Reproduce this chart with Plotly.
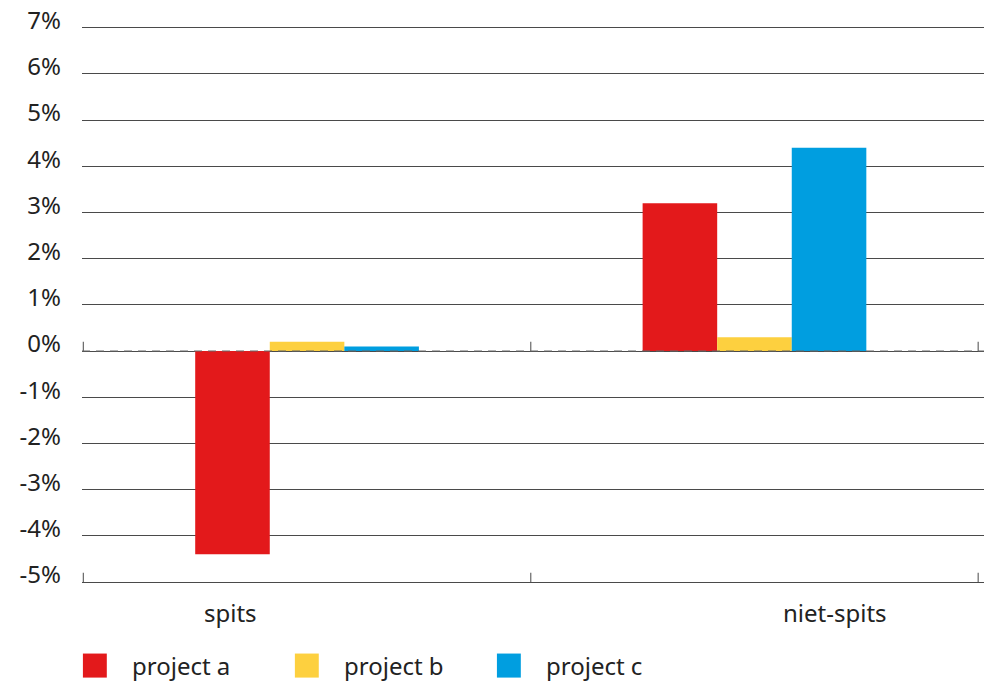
import plotly.graph_objects as go

# Data
categories = ['spits', 'niet-spits']
project_a = [-4.4, 3.2]
project_b = [0.2, 0.3]
project_c = [0.1, 4.4]
series_names = ['project a', 'project b', 'project c']
colors = ['#e3191b', '#fdd03f', '#009ee0']
y_ticks = list(range(-5, 8))
y_labels = ['%d%%' % v for v in y_ticks]

FONT = 'Noto Sans'
TEXT = '#222222'
GRID = '#4a4a4a'

fig = go.Figure()
for name, vals, color in zip(series_names, [project_a, project_b, project_c], colors):
    fig.add_trace(go.Bar(x=categories, y=vals, name=name, marker=dict(color=color, line=dict(width=0)),
                         showlegend=False))

# dashed zero line + small ticks at category boundaries (on zero line and bottom axis)
shapes = [dict(type='line', xref='paper', yref='y', x0=0, x1=1, y0=0, y1=0,
               line=dict(color='#666666', width=1.2, dash='8px,6px'))]
for i in range(len(categories) + 1):
    for base in (0, -5):
        shapes.append(dict(type='line', xref='x', yref='y', x0=i - 0.5, x1=i - 0.5, y0=base, y1=base + 0.2,
                           line=dict(color='#666666', width=1.2)))

annotations = [
    dict(x=-0.17, y=-0.055, xref='x', yref='paper', text='spits', showarrow=False,
         font=dict(family=FONT, size=24, color=TEXT), yanchor='middle'),
    dict(x=1.18, y=-0.055, xref='x', yref='paper', text='niet-spits', showarrow=False,
         font=dict(family=FONT, size=24, color=TEXT), yanchor='middle'),
]

# custom legend with large squares
legend_x = [0.001, 0.236, 0.460]
for name, color, lx in zip(series_names, colors, legend_x):
    shapes.append(dict(type='rect', xref='paper', yref='paper', x0=lx, x1=lx + 0.0265,
                       y0=-0.171, y1=-0.128, fillcolor=color, line=dict(width=0)))
    annotations.append(dict(x=lx + 0.052, y=-0.150, xref='paper', yref='paper', text=name,
                            showarrow=False, xanchor='left', yanchor='middle',
                            font=dict(family=FONT, size=24, color=TEXT)))

fig.update_layout(
    width=984, height=684, autosize=False, margin=dict(l=82, r=0, t=23, b=102),
    paper_bgcolor='white', plot_bgcolor='white',
    barmode='group', bargap=0.5, bargroupgap=0,
    font=dict(family=FONT, size=24, color=TEXT),
    showlegend=False,
    xaxis=dict(type='category', categoryorder='array', categoryarray=categories, range=[-0.503, 1.513],
               showticklabels=False, showgrid=False, showline=True, linecolor=GRID, linewidth=1.3,
               ticks='', automargin=False),
    yaxis=dict(range=[-5, 7.1], tickvals=y_ticks, ticktext=y_labels, showgrid=True, gridcolor=GRID,
               gridwidth=1.2, zeroline=False, showline=False, ticklabelstandoff=20,
               ticklabelshift=-7, tickfont=dict(size=24, color=TEXT), automargin=False),
    shapes=shapes, annotations=annotations,
)

# remove the default page margin so the figure fills the window exactly
post = ("document.body.style.margin='0';"
        "Plotly.relayout('{plot_id}', {width: 984, height: 684});")
fig.write_html('out.html', config={'responsive': False, 'displayModeBar': False}, post_script=post)
